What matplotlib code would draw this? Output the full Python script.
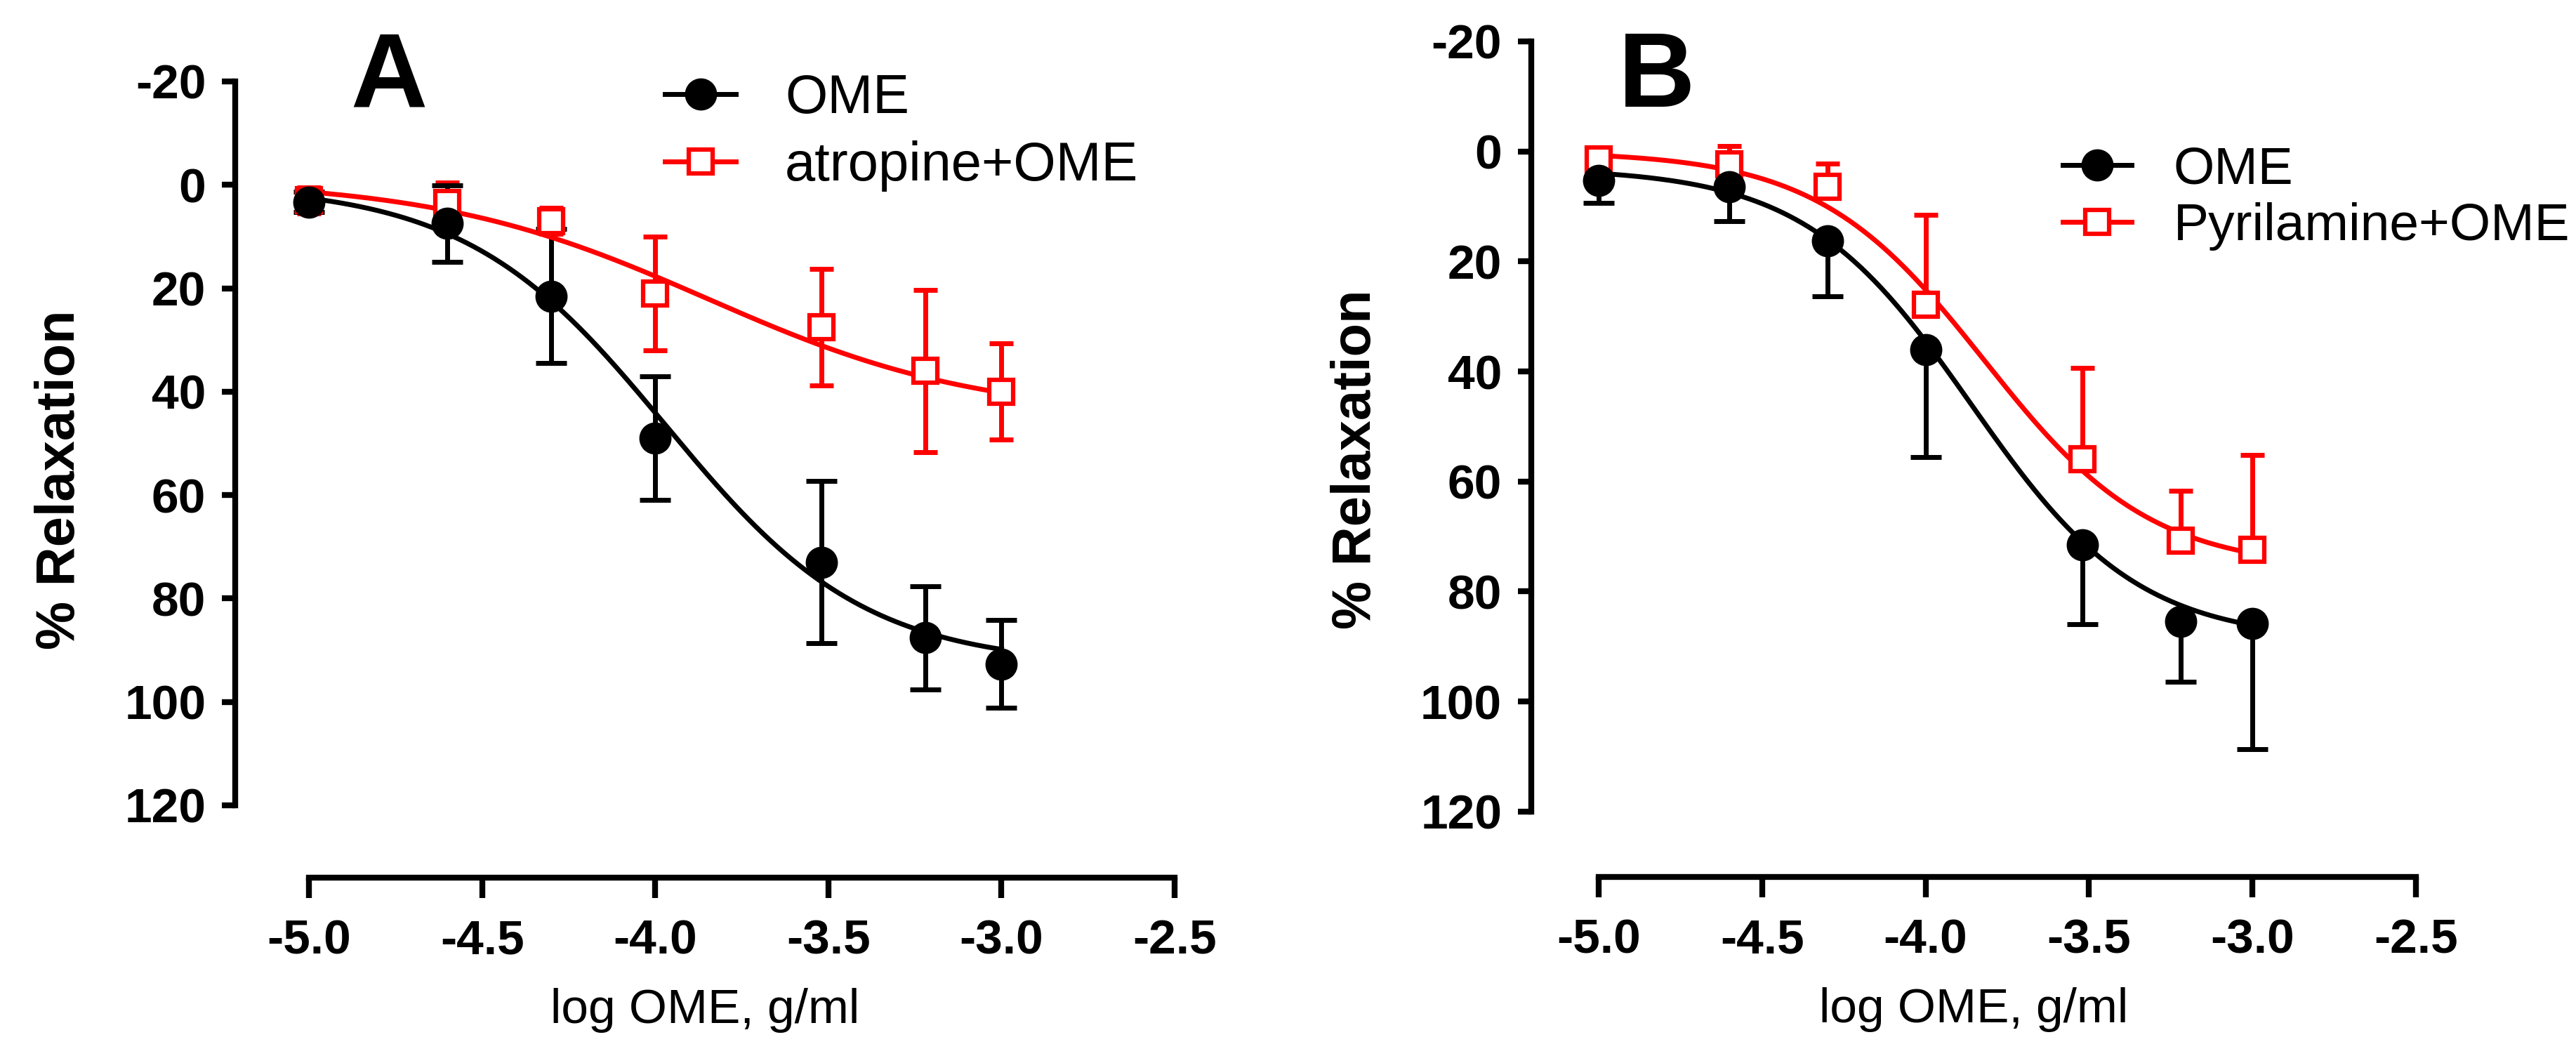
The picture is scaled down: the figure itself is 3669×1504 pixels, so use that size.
import numpy as np
import matplotlib.pyplot as plt
from matplotlib.lines import Line2D

plt.rcParams['font.family'] = ['Liberation Sans', 'DejaVu Sans']
plt.rcParams['axes.unicode_minus'] = False

# log OME concentration, g/ml
log_conc = [-5.0, -4.6, -4.3, -4.0, -3.52, -3.22, -3.0]

# panel A: OME alone and with atropine (% relaxation, mean and SD)
a_ome = [3.3, 7.5, 21.5, 49.0, 73.0, 87.6, 92.7]
a_ome_sd = [2.0, 7.4, 13.0, 12.0, 15.7, 10.0, 8.5]
a_atr = [3.0, 3.5, 7.0, 21.0, 27.5, 36.0, 40.0]
a_atr_sd = [2.5, 4.0, 2.5, 11.0, 11.3, 15.7, 9.3]

# panel B: OME alone and with pyrilamine (one-sided error bars)
b_ome = [5.3, 6.4, 16.2, 36.0, 71.5, 85.4, 85.8]
b_ome_sd = [4.1, 6.3, 10.1, 19.6, 14.5, 11.0, 22.9]
b_pyr = [1.5, 2.3, 6.4, 27.9, 56.0, 70.8, 72.4]
b_pyr_sd = [2.0, 3.3, 4.2, 16.4, 16.7, 9.1, 17.2]

# sigmoid fit: bottom, top, logEC50, hill slope
a_ome_fit = [0.0, 93.0, -3.97, 1.5]
a_atr_fit = [-1.0, 45.0, -3.85, 1.1]
b_ome_fit = [3.0, 89.0, -3.86, 1.7]
b_pyr_fit = [0.0, 76.0, -3.82, 1.7]

y_ticks = [-20, 0, 20, 40, 60, 80, 100, 120]
x_ticks = [-5.0, -4.5, -4.0, -3.5, -3.0, -2.5]


def sigmoid(x, p):
    bottom, top, logec50, hill = p
    return bottom + (top - bottom) / (1 + 10 ** ((logec50 - x) * hill))


def style_axes(ax, xlim, ylim):
    ax.set_xlim(*xlim)
    ax.set_ylim(*ylim)
    for s in ['top', 'right']:
        ax.spines[s].set_visible(False)
    ax.spines['left'].set_linewidth(6)
    ax.spines['bottom'].set_linewidth(6)
    ax.spines['left'].set_bounds(-20, 120)
    ax.spines['bottom'].set_bounds(-5.0, -2.5)
    ax.set_yticks(y_ticks)
    ax.set_xticks(x_ticks)
    ax.set_xticklabels(['%.1f' % t for t in x_ticks])
    ax.tick_params(axis='x', length=21, width=6, pad=21, labelsize=50)
    ax.tick_params(axis='y', length=14, width=6, pad=16, labelsize=50)
    for lbl in ax.get_xticklabels() + ax.get_yticklabels():
        lbl.set_fontweight('bold')
    ax.set_xlabel('log OME, g/ml', fontsize=50, labelpad=25)
    ax.set_ylabel('% Relaxation', fontsize=56, fontweight='bold', labelpad=40)


def draw_series(ax, y, yerr, fit, color, marker, capsize, side='both'):
    xs = np.linspace(log_conc[0], log_conc[-1], 300)
    ax.plot(xs, sigmoid(xs, fit), color=color, lw=5, zorder=3)
    if side == 'down':      # larger values (lower on the inverted axis)
        err = [[0] * len(yerr), yerr]
    elif side == 'up':
        err = [yerr, [0] * len(yerr)]
    else:
        err = yerr
    eb = ax.errorbar(log_conc, y, yerr=err, fmt='none', ecolor=color,
                     elinewidth=5, capsize=capsize, capthick=5, zorder=2)
    caps = eb[1]
    if side == 'down':
        caps[0].set_visible(False)
    elif side == 'up':
        caps[1].set_visible(False)
    if marker == 'o':
        ax.plot(log_conc, y, 'o', color=color, ms=32, zorder=4, ls='none')
    else:
        ax.plot(log_conc, y, 's', mfc='white', mec=color, mew=4.5,
                ms=24, zorder=4, ls='none')


fig = plt.figure(figsize=(36.69, 15.04), dpi=100)

# ---- panel A
axA = fig.add_axes([0.0913, 0.1689, 0.3647, 0.754])
draw_series(axA, a_atr, a_atr_sd, a_atr_fit, 'red', 's', 12)
draw_series(axA, a_ome, a_ome_sd, a_ome_fit, 'black', 'o', 16)
style_axes(axA, (-5.213, -2.5), (134, -20))

hA = [Line2D([], [], color='black', lw=5, marker='o', ms=32),
      Line2D([], [], color='red', lw=5, marker='s', mfc='white', mew=4.5, ms=24)]
axA.legend(hA, ['OME', 'atropine+OME'], loc='upper left',
           bbox_to_anchor=(0.2581, 0.931), bbox_transform=fig.transFigure,
           frameon=False, fontsize=56, handlelength=1.3, handletextpad=0.9,
           labelspacing=0.3, borderpad=0, borderaxespad=0)
fig.text(0.151, 0.925, 'A', fontsize=109, fontweight='bold', ha='center', va='center')

# ---- panel B
axB = fig.add_axes([0.5944, 0.1695, 0.3435, 0.7913])
draw_series(axB, b_pyr, b_pyr_sd, b_pyr_fit, 'red', 's', 12, side='up')
draw_series(axB, b_ome, b_ome_sd, b_ome_fit, 'black', 'o', 16, side='down')
style_axes(axB, (-5.206, -2.5), (131.9, -20))

hB = [Line2D([], [], color='black', lw=5, marker='o', ms=32),
      Line2D([], [], color='red', lw=5, marker='s', mfc='white', mew=4.5, ms=24)]
axB.legend(hB, ['OME', 'Pyrilamine+OME'], loc='upper left',
           bbox_to_anchor=(0.8008, 0.862), bbox_transform=fig.transFigure,
           frameon=False, fontsize=54, handlelength=1.3, handletextpad=0.8,
           labelspacing=0.15, borderpad=0, borderaxespad=0)
fig.text(0.643, 0.925, 'B', fontsize=109, fontweight='bold', ha='center', va='center')

fig.savefig('out.png', dpi=100)
